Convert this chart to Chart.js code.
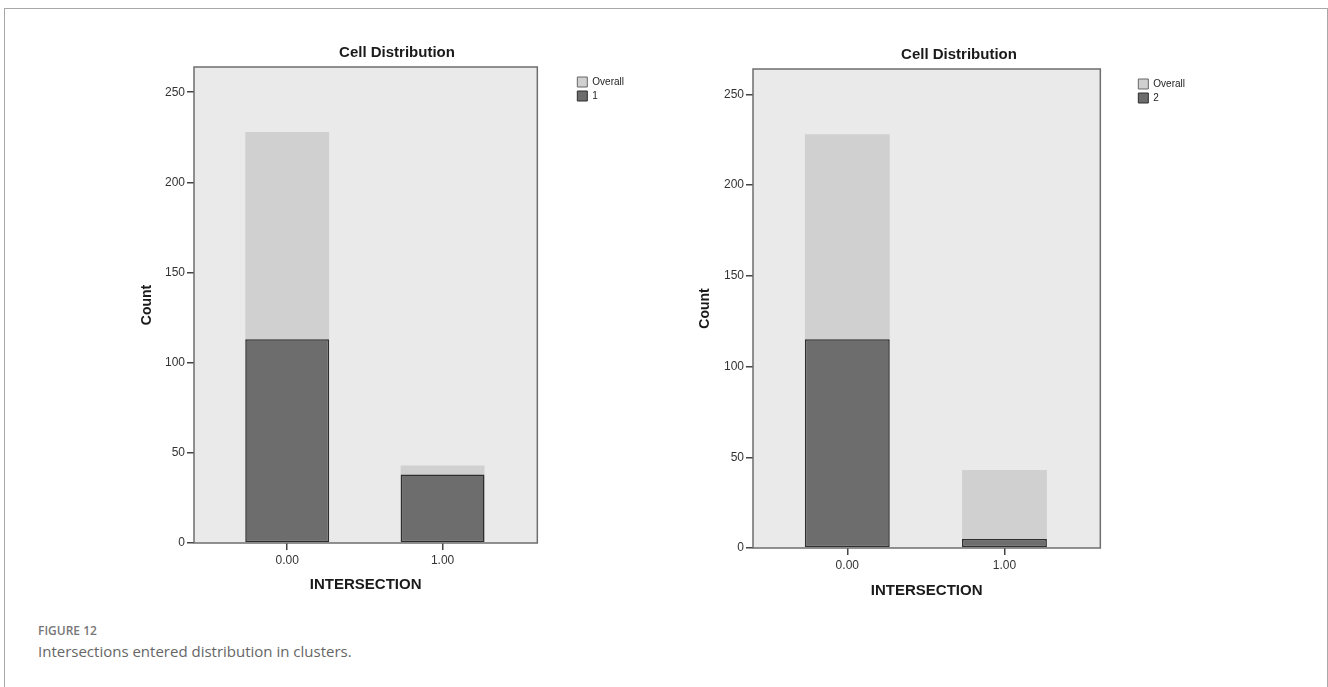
<!DOCTYPE html>
<html>
<head>
<meta charset="utf-8">
<script src="https://cdn.jsdelivr.net/npm/chart.js@4/dist/chart.umd.min.js"></script>
<style>
    body { margin: 0; background: #fff; }
    #page { position: relative; width: 1328px; height: 687px; overflow: hidden; }
    #frame {
        position: absolute; left: 4px; top: 8px; width: 1322px; height: 700px;
        border: 1.5px solid #a8a8a8; border-bottom: none;
    }
    canvas { position: absolute; }
    .fig-label { position: absolute; left: 38px; top: 622px; font: 600 12px "Open Sans", sans-serif; color: #777; }
    .fig-caption { position: absolute; left: 38px; top: 641px; font: 15px "Open Sans", sans-serif; color: #666; }
</style>
</head>
<body>
<div id="page">
    <div id="frame"></div>
    <canvas id="chart-1" width="574" height="554" style="left:110px; top:44px;"></canvas>
    <canvas id="chart-2" width="548" height="557" style="left:685px; top:46px;"></canvas>
    <div class="fig-label">FIGURE 12</div>
    <div class="fig-caption">Intersections entered distribution in clusters.</div>
</div>
<script>
    // INTERSECTION values and their labels
    const intersection = [0, 1];
    const xLabels = ['0.00', '1.00'];
    const yTicks = [0, 50, 100, 150, 200, 250];

    // counts per category
    const overall = [228, 43];
    const cluster1 = [113, 38];
    const cluster2 = [115, 5];

    const font = '"Liberation Sans", Arial, sans-serif';

    const plotFrame = {
        id: 'plotFrame',
        beforeDatasetsDraw(chart) {
            const a = chart.chartArea;
            const ctx = chart.ctx;
            ctx.save();
            ctx.fillStyle = '#eaeaea';
            ctx.fillRect(a.left, a.top, a.right - a.left, a.bottom - a.top);
            ctx.restore();
        },
        afterDatasetsDraw(chart) {
            const a = chart.chartArea;
            const ctx = chart.ctx;
            ctx.save();
            ctx.strokeStyle = '#6e6e6e';
            ctx.lineWidth = 1.5;
            ctx.strokeRect(a.left, a.top, a.right - a.left, a.bottom - a.top);
            ctx.restore();
        }
    };

    function spacer(width, weight) {
        return {
            type: 'linear',
            position: 'right',
            weight: weight,
            grid: { display: false },
            border: { display: false },
            ticks: { display: false },
            afterFit(scale) { scale.width = width; }
        };
    }

    function makeChart(id, name, values, o) {
        const ctx = document.getElementById(id).getContext('2d');
        return new Chart(ctx, {
            type: 'bar',
            data: {
                datasets: [{
                    label: 'Overall',
                    data: intersection.map((x, i) => ({ x: x, y: overall[i] })),
                    backgroundColor: '#d0d0d0',
                    borderWidth: 0,
                    grouped: false,
                    order: 2
                }, {
                    label: name,
                    data: intersection.map((x, i) => ({ x: x, y: values[i] })),
                    backgroundColor: '#6d6d6d',
                    borderColor: '#2e2e2e',
                    borderWidth: 1.5,
                    borderSkipped: false,
                    grouped: false,
                    order: 1
                }]
            },
            plugins: [plotFrame],
            options: {
                responsive: false,
                animation: false,
                layout: { padding: 0 },
                barPercentage: 0.54,
                categoryPercentage: 1,
                scales: {
                    x: {
                        type: 'linear',
                        min: -0.6,
                        max: 1.61,
                        offset: false,
                        afterBuildTicks(scale) {
                            scale.ticks = intersection.map(v => ({ value: v }));
                        },
                        afterFit(scale) { scale.height = 55; },
                        grid: { offset: false, drawOnChartArea: false, tickLength: 7, color: '#444', lineWidth: 1.5 },
                        border: { display: false },
                        ticks: {
                            padding: 3,
                            color: '#333',
                            font: { family: font, size: 12 },
                            callback: v => xLabels[intersection.indexOf(v)]
                        },
                        title: {
                            display: true,
                            text: 'INTERSECTION',
                            color: '#1a1a1a',
                            font: { family: font, size: 15, weight: 'bold' },
                            padding: { top: 0, bottom: o.xTitlePad }
                        }
                    },
                    y: {
                        min: 0,
                        max: 264,
                        afterBuildTicks(scale) {
                            scale.ticks = yTicks.map(v => ({ value: v }));
                        },
                        afterFit(scale) { scale.width = o.yWidth; },
                        grid: { drawOnChartArea: false, tickLength: 7, color: '#444', lineWidth: 1.5 },
                        border: { display: false },
                        ticks: {
                            padding: 2,
                            color: '#333',
                            font: { family: font, size: 12 }
                        },
                        title: {
                            display: true,
                            text: 'Count',
                            color: '#1a1a1a',
                            font: { family: font, size: 14, weight: 'bold' },
                            padding: { top: o.yTitlePad, bottom: 0 }
                        }
                    },
                    gap: spacer(o.inner, 0),
                    fill: spacer(o.outer, 2000)
                },
                plugins: {
                    title: {
                        display: true,
                        text: 'Cell Distribution',
                        color: '#1a1a1a',
                        font: { family: font, size: 15, weight: 'bold' },
                        padding: { top: 0, bottom: 5 }
                    },
                    legend: {
                        position: 'right',
                        align: 'start',
                        fullSize: false,
                        title: { display: true, text: '', font: { size: 5 }, padding: 0 },
                        labels: {
                            boxWidth: 10,
                            boxHeight: 10,
                            padding: 4,
                            color: '#222',
                            font: { family: font, size: 10 },
                            sort: (a, b) => a.datasetIndex - b.datasetIndex,
                            generateLabels(chart) {
                                const items = Chart.defaults.plugins.legend.labels.generateLabels(chart);
                                items.forEach(item => {
                                    item.lineWidth = 1;
                                    item.strokeStyle = item.datasetIndex === 0 ? '#666' : '#2e2e2e';
                                });
                                return items;
                            }
                        }
                    },
                    tooltip: { enabled: false }
                }
            }
        });
    }

    makeChart('chart-1', '1', cluster1, { yWidth: 84, yTitlePad: 29, xTitlePad: 4, inner: 36, outer: 50 });
    makeChart('chart-2', '2', cluster2, { yWidth: 68, yTitlePad: 12, xTitlePad: 3, inner: 34, outer: 38 });
</script>
</body>
</html>
